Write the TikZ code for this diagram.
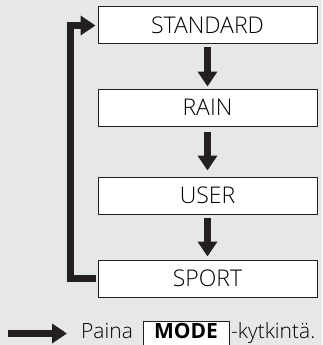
\documentclass[tikz,border=0pt]{standalone}
\usepackage{fontspec}
\setmainfont{Open Sans}[UprightFont={* Light},BoldFont={* Bold}]
\usetikzlibrary{arrows.meta}
\definecolor{bggray}{HTML}{E6E7E8}
\definecolor{inkblack}{HTML}{231F20}
\tikzset{
  modebox/.style={draw=inkblack, line width=1pt, fill=white, minimum width=219pt, minimum height=37pt, inner sep=0pt, font=\fontsize{23}{23}\selectfont},
  flowarrow/.style={draw=inkblack, line width=7pt, line join=miter, -{Triangle[width=19pt,length=15pt]}},
  keybox/.style={draw=inkblack, line width=1pt, fill=white, minimum width=86pt, text height=17pt, text depth=8pt, inner sep=0pt, font=\fontsize{21}{21}\selectfont\bfseries},
  legendtext/.style={inner sep=0pt, font=\fontsize{21}{21}\selectfont}
}
\begin{document}
\begin{tikzpicture}[x=1pt, y=1pt]
        \fill[bggray] (0,0) rectangle (322,-345);
        \useasboundingbox (0,0) rectangle (322,-345);

        \node[modebox] (standard) at (207.5,-25.5) {STANDARD};
        \node[modebox] (rain) at (207.5,-107.5) {RAIN};
        \node[modebox] (user) at (207.5,-195.5) {USER};
        \node[modebox] (sport) at (207.5,-278.5) {SPORT};

        \draw[flowarrow, shorten <=3pt, shorten >=2pt] (standard.south) -- (rain.north);
        \draw[flowarrow, shorten <=5pt, shorten >=6pt] (rain.south) -- (user.north);
        \draw[flowarrow, shorten <=3pt, shorten >=3pt] (user.south) -- (sport.north);
        \draw[flowarrow, shorten <=2pt, shorten >=2pt] (sport.west) -- ++(-27,0) |- (standard.west);

        \coordinate (legstart) at (8,-333.5);
        \node[legendtext, anchor=base west] (paina) at (81,-338) {Paina};
        \node[keybox, anchor=base] (mode) at (186,-338) {MODE};
        \node[legendtext, anchor=base west] (switch) at (231,-338) {-kytkintä.};
        \draw[flowarrow, shorten >=14pt] (legstart) -- (legstart -| paina.west);
\end{tikzpicture}
\end{document}
